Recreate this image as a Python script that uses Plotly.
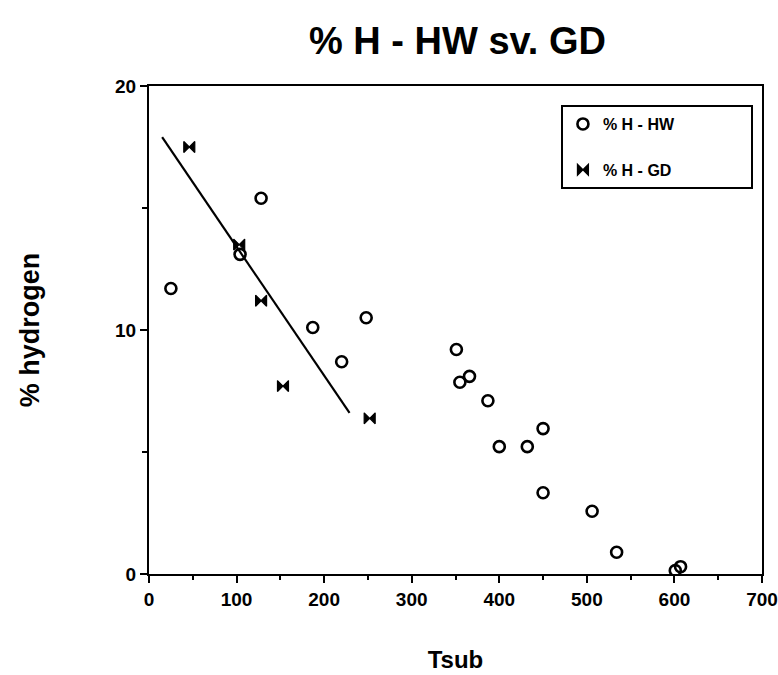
import plotly.graph_objects as go

# % H - HW data (Tsub, % hydrogen)
hw_tsub = [25, 104, 128, 187, 220, 248, 351, 355, 366, 387, 400, 432, 450, 450, 506, 534, 601, 607]
hw_h = [11.7, 13.1, 15.4, 10.1, 8.7, 10.5, 9.2, 7.86, 8.1, 7.1, 5.22, 5.22, 5.96, 3.33, 2.57, 0.89, 0.14, 0.30]

# % H - GD data
gd_tsub = [46, 103, 128, 153, 252]
gd_h = [17.5, 13.5, 11.2, 7.7, 6.38]

# fitted line for GD
fit_tsub = [15, 229]
fit_h = [17.9, 6.6]

x_ticks = [0, 100, 200, 300, 400, 500, 600, 700]
y_ticks = [0, 10, 20]

FONT = "Liberation Sans"
PAD = "\u00a0" * 16

fig = go.Figure()
fig.add_trace(go.Scatter(
    x=fit_tsub, y=fit_h, mode="lines", line=dict(color="black", width=2.2),
    showlegend=False, hoverinfo="skip"))
fig.add_trace(go.Scatter(
    x=hw_tsub, y=hw_h, mode="markers", name="<b>% H - HW</b>" + PAD, legendgroup="a",
    marker=dict(symbol="circle-open", size=11, color="black", line=dict(color="black", width=2.6))))
fig.add_trace(go.Scatter(
    x=gd_tsub, y=gd_h, mode="markers", name="<b>% H - GD</b>" + PAD, legendgroup="b",
    marker=dict(symbol="bowtie", size=11, color="black", line=dict(color="black", width=1.2))))

fig.update_layout(
    width=778, height=675,
    paper_bgcolor="white", plot_bgcolor="white",
    margin=dict(l=149, r=16, t=86, b=101, autoexpand=False),
    title=dict(text="<b>% H - HW sv. GD</b>", x=0.588, xanchor="center", y=0.94, yanchor="middle",
               font=dict(family=FONT, size=38, color="black")),
    font=dict(family=FONT, color="black"),
    legend=dict(x=0.672, y=0.961, xanchor="left", yanchor="top",
                bordercolor="black", borderwidth=2, bgcolor="white",
                font=dict(family=FONT, size=16, color="black"),
                traceorder="grouped", tracegroupgap=22),
)

fig.update_xaxes(
    range=[0, 700], tickvals=x_ticks, ticktext=[f"<b>{v}</b>" for v in x_ticks],
    showgrid=False, zeroline=False, showline=True, linecolor="black", linewidth=2.2, mirror=True,
    ticks="outside", ticklen=7, tickwidth=2, tickcolor="black", automargin=False,
    tickfont=dict(family=FONT, size=19, color="black"),
    minor=dict(dtick=50, ticks="outside", ticklen=4, tickwidth=1.5, tickcolor="black", showgrid=False),
    title=dict(text="<b>Tsub</b>", font=dict(family=FONT, size=24, color="black"), standoff=42),
)
fig.update_yaxes(
    range=[0, 20], tickvals=y_ticks, ticktext=[f"<b>{v}</b>" for v in y_ticks],
    showgrid=False, zeroline=False, showline=True, linecolor="black", linewidth=2.2, mirror=True,
    ticks="outside", ticklen=7, tickwidth=2, tickcolor="black", automargin=False,
    tickfont=dict(family=FONT, size=19, color="black"),
    minor=dict(dtick=5, ticks="outside", ticklen=5, tickwidth=1.5, tickcolor="black", showgrid=False),
    title=dict(text="<b>% hydrogen</b>", font=dict(family=FONT, size=27, color="black"), standoff=68),
)

fig.write_html("out.html")
